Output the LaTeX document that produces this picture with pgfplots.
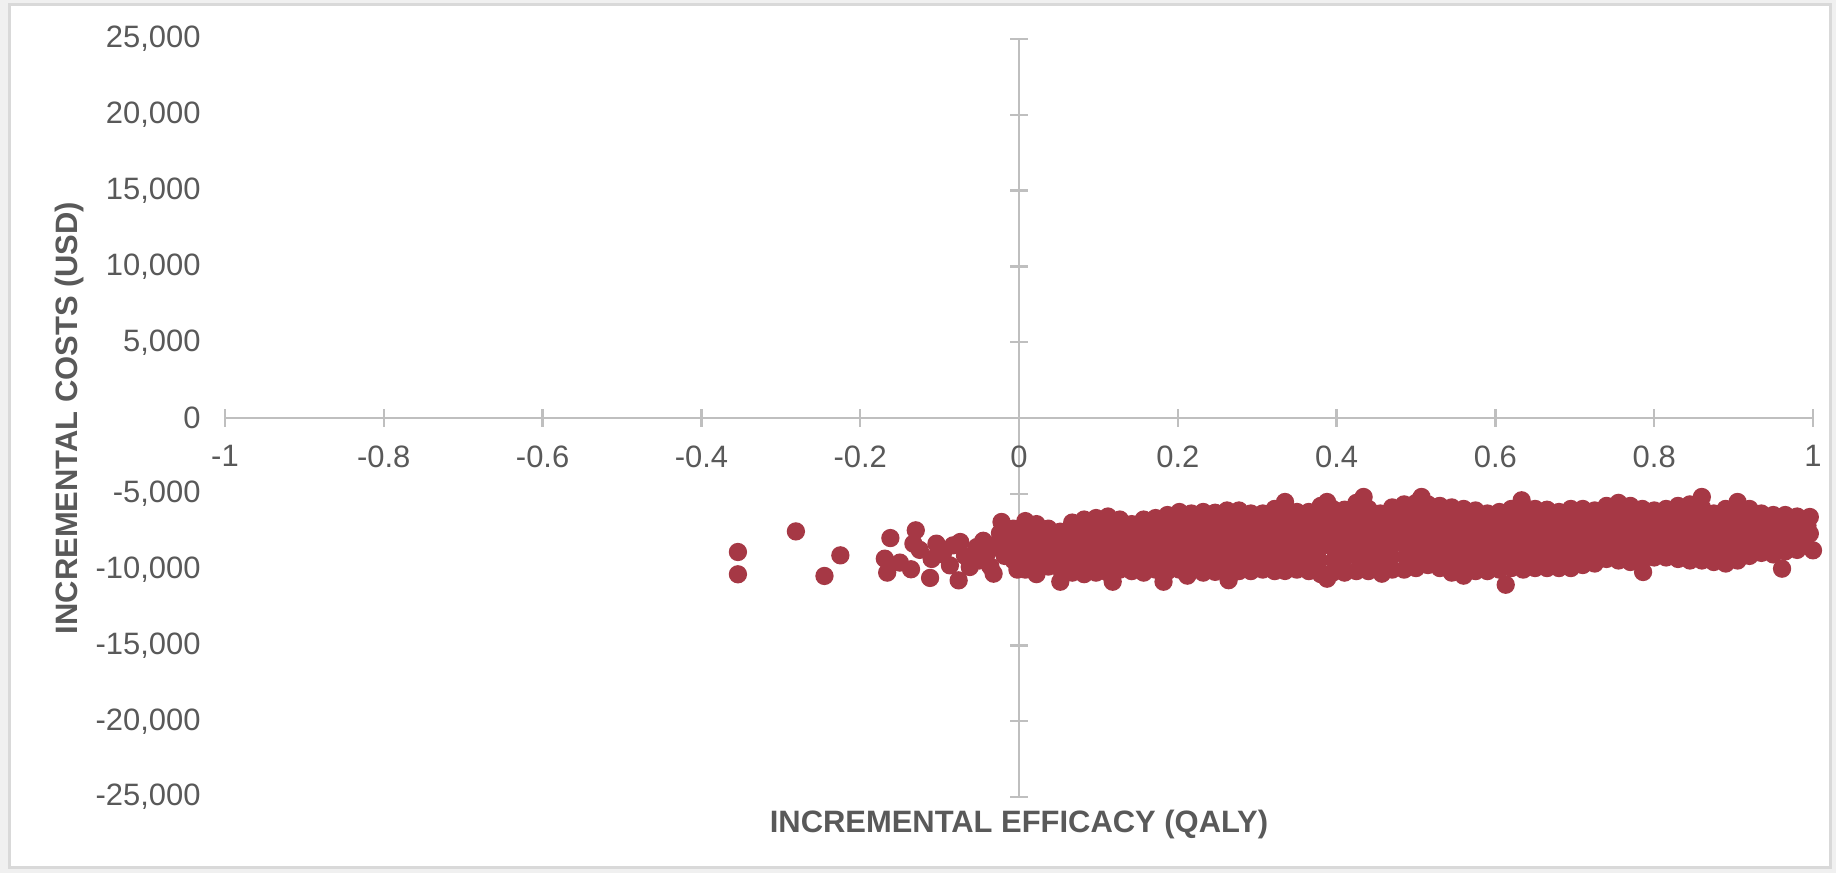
\documentclass[border=0pt]{standalone}
\usepackage{fontspec}
\setmainfont{Liberation Sans}
\usepackage{pgfplots}
\pgfplotsset{compat=1.18}
\definecolor{axisgray}{RGB}{191,191,191}
\definecolor{textgray}{RGB}{89,89,89}
\definecolor{framegray}{RGB}{217,217,217}
\definecolor{ptred}{RGB}{166,56,69}

\begin{document}
\begin{tikzpicture}
% chart frame
\fill[black!6] (-22.5mm,-7.6mm) rectangle (161.1mm,79.7mm);
\filldraw[fill=white, draw=framegray, line width=0.3mm] (-21.5mm,-7.1mm) rectangle (160.5mm,79.2mm);

\begin{axis}[
    at={(0,0)}, anchor=south west,
    scale only axis,
    width=158.8mm, height=75.8mm,
    xmin=-1, xmax=1, ymin=-25000, ymax=25000,
    axis lines=middle,
    axis line style={draw=axisgray, line width=0.25mm, -},
    hide obscured x ticks=false, hide obscured y ticks=false,
    xtick={-1,-0.8,-0.6,-0.4,-0.2,0,0.2,0.4,0.6,0.8,1},
    ytick={-25000,-20000,-15000,-10000,-5000,0,5000,10000,15000,20000,25000},
    scaled y ticks=false,
    tick align=center,
    major tick length=1.8mm,
    tick style={draw=axisgray, line width=0.25mm},
    /pgf/number format/assume math mode=true,
    /pgf/number format/1000 sep={,},
    ticklabel style={font=\fontsize{8.8}{10}\selectfont, text=textgray},
    xticklabel style={anchor=north, yshift=-0.6mm},
    yticklabel style={anchor=east, xshift=-79.7mm},
    xlabel={INCREMENTAL EFFICACY (QALY)},
    ylabel={INCREMENTAL COSTS (USD)},
    label style={font=\bfseries\fontsize{8.8}{10}\selectfont, text=textgray},
    xlabel style={at={([yshift=-3.6mm]axis description cs:0.5,0)}, anchor=base},
    ylabel style={at={([xshift=-14.7mm]axis description cs:0,0.5)}, anchor=base, rotate=90},
    clip=false,
]
\addplot[only marks, mark=*, mark size=2.4pt, color=ptred] coordinates {
% sparse points left of zero
(-0.354,-8840) (-0.354,-10310) (-0.281,-7480) (-0.245,-10420) (-0.225,-9060)
(-0.169,-9280) (-0.166,-10200) (-0.162,-7920) (-0.150,-9540) (-0.136,-9980) (-0.133,-8290) (-0.130,-7410)
(-0.125,-8700) (-0.112,-10550) (-0.110,-9300) (-0.104,-8290) (-0.096,-9000) (-0.087,-9720) (-0.083,-8400)
(-0.076,-10710) (-0.074,-8180) (-0.068,-9100) (-0.062,-9830) (-0.053,-8510) (-0.050,-9400) (-0.045,-8100)
(-0.040,-8900) (-0.036,-9800) (-0.032,-10270) (-0.028,-8300) (-0.024,-7600) (-0.022,-6860) (-0.018,-9100)
(-0.015,-7900) (-0.010,-8700) (-0.007,-7300) (-0.007,-9390) (-0.003,-8200) (-0.002,-10000)
% main cloud
(0.008,-6800) (0.009,-7440) (0.007,-8080) (0.008,-8720) (0.010,-9360) (0.008,-10000)
(0.022,-7000) (0.021,-7660) (0.023,-8320) (0.022,-8980) (0.024,-9640) (0.022,-10300)
(0.037,-7300) (0.038,-7800) (0.036,-8300) (0.037,-8800) (0.039,-9300) (0.037,-9800)
(0.052,-7500) (0.053,-8160) (0.051,-8820) (0.052,-9480) (0.054,-10140) (0.052,-10800)
(0.067,-6900) (0.066,-7560) (0.068,-8220) (0.067,-8880) (0.065,-9540) (0.067,-10200)
(0.082,-6700) (0.083,-7420) (0.081,-8140) (0.082,-8860) (0.084,-9580) (0.082,-10300)
(0.097,-6600) (0.096,-7320) (0.098,-8040) (0.097,-8760) (0.095,-9480) (0.097,-10200)
(0.112,-6500) (0.113,-7240) (0.111,-7980) (0.112,-8720) (0.114,-9460) (0.112,-10200)
(0.118,-10800)
(0.127,-6700) (0.126,-7360) (0.128,-8020) (0.127,-8680) (0.125,-9340) (0.127,-10000)
(0.142,-7000) (0.143,-7620) (0.141,-8240) (0.142,-8860) (0.144,-9480) (0.142,-10100)
(0.157,-6700) (0.156,-7400) (0.158,-8100) (0.157,-8800) (0.155,-9500) (0.157,-10200)
(0.172,-6600) (0.173,-7280) (0.171,-7960) (0.172,-8640) (0.174,-9320) (0.172,-10000)
(0.182,-10800)
(0.187,-6400) (0.186,-7140) (0.188,-7880) (0.187,-8620) (0.185,-9360) (0.187,-10100)
(0.202,-6200) (0.203,-6960) (0.201,-7720) (0.202,-8480) (0.204,-9240) (0.202,-10000)
(0.217,-6300) (0.216,-7120) (0.218,-7940) (0.217,-8760) (0.215,-9580) (0.212,-10400)
(0.232,-6200) (0.233,-7000) (0.231,-7800) (0.232,-8600) (0.234,-9400) (0.232,-10200)
(0.247,-6250) (0.246,-7050) (0.248,-7850) (0.247,-8650) (0.245,-9450) (0.247,-10150)
(0.262,-6100) (0.263,-7020) (0.261,-7940) (0.262,-8860) (0.264,-9780) (0.264,-10700)
(0.277,-6100) (0.276,-6900) (0.278,-7700) (0.277,-8500) (0.275,-9300) (0.277,-10100)
(0.292,-6300) (0.293,-7060) (0.291,-7820) (0.292,-8580) (0.294,-9340) (0.292,-10100)
(0.307,-6300) (0.306,-7040) (0.308,-7780) (0.307,-8520) (0.305,-9260) (0.307,-10000)
(0.322,-6000) (0.323,-6820) (0.321,-7640) (0.322,-8460) (0.324,-9280) (0.322,-10100)
(0.335,-5540) (0.336,-6450) (0.334,-7360) (0.335,-8270) (0.337,-9180) (0.335,-10090)
(0.350,-6200) (0.349,-6960) (0.351,-7720) (0.350,-8480) (0.348,-9240) (0.350,-10000)
(0.365,-6200) (0.366,-6980) (0.364,-7760) (0.365,-8540) (0.367,-9320) (0.365,-10100)
(0.380,-5800) (0.379,-6700) (0.381,-7600) (0.380,-8500) (0.378,-9400) (0.380,-10300)
(0.388,-5540) (0.388,-10600)
(0.395,-6000) (0.396,-6840) (0.394,-7680) (0.395,-8520) (0.397,-9360) (0.395,-10200)
(0.410,-6050) (0.409,-6880) (0.411,-7710) (0.410,-8540) (0.408,-9370) (0.410,-10200)
(0.425,-5600) (0.426,-6500) (0.424,-7400) (0.425,-8300) (0.427,-9200) (0.425,-10100)
(0.434,-5210)
(0.440,-6000) (0.439,-6820) (0.441,-7640) (0.440,-8460) (0.438,-9280) (0.440,-10100)
(0.455,-6300) (0.456,-7100) (0.454,-7900) (0.455,-8700) (0.457,-9500) (0.457,-10270)
(0.470,-5900) (0.469,-6720) (0.471,-7540) (0.470,-8360) (0.468,-9180) (0.470,-10000)
(0.485,-5700) (0.486,-6560) (0.484,-7420) (0.485,-8280) (0.487,-9140) (0.485,-10000)
(0.500,-5600) (0.499,-6460) (0.501,-7320) (0.500,-8180) (0.498,-9040) (0.500,-9900)
(0.507,-5210)
(0.515,-5700) (0.516,-6500) (0.514,-7300) (0.515,-8100) (0.517,-8900) (0.515,-9700)
(0.530,-5800) (0.529,-6620) (0.531,-7440) (0.530,-8260) (0.528,-9080) (0.530,-9900)
(0.545,-5900) (0.546,-6760) (0.544,-7620) (0.545,-8480) (0.547,-9340) (0.545,-10200)
(0.560,-6000) (0.559,-6880) (0.561,-7760) (0.560,-8640) (0.558,-9520) (0.560,-10400)
(0.575,-6100) (0.576,-6900) (0.574,-7700) (0.575,-8500) (0.577,-9300) (0.575,-10100)
(0.590,-6300) (0.589,-7060) (0.591,-7820) (0.590,-8580) (0.588,-9340) (0.590,-10100)
(0.613,-11000)
(0.605,-6200) (0.606,-6960) (0.604,-7720) (0.605,-8480) (0.607,-9240) (0.605,-10000)
(0.620,-6000) (0.619,-6780) (0.621,-7560) (0.620,-8340) (0.618,-9120) (0.620,-9900)
(0.633,-5430)
(0.635,-6100) (0.636,-6880) (0.634,-7660) (0.635,-8440) (0.637,-9220) (0.635,-10000)
(0.650,-6000) (0.649,-6780) (0.651,-7560) (0.650,-8340) (0.648,-9120) (0.650,-9900)
(0.665,-6050) (0.666,-6820) (0.664,-7590) (0.665,-8360) (0.667,-9130) (0.665,-9900)
(0.680,-6200) (0.679,-6940) (0.681,-7680) (0.680,-8420) (0.678,-9160) (0.680,-9900)
(0.695,-6000) (0.696,-6780) (0.694,-7560) (0.695,-8340) (0.697,-9120) (0.695,-9900)
(0.710,-6000) (0.709,-6740) (0.711,-7480) (0.710,-8220) (0.708,-8960) (0.710,-9700)
(0.725,-6100) (0.726,-6800) (0.724,-7500) (0.725,-8200) (0.727,-8900) (0.725,-9600)
(0.740,-5800) (0.739,-6500) (0.741,-7200) (0.740,-7900) (0.738,-8600) (0.740,-9300)
(0.755,-5600) (0.756,-6360) (0.754,-7120) (0.755,-7880) (0.757,-8640) (0.755,-9400)
(0.770,-5800) (0.769,-6540) (0.771,-7280) (0.770,-8020) (0.768,-8760) (0.770,-9500)
(0.786,-10160)
(0.785,-6000) (0.786,-6680) (0.784,-7360) (0.785,-8040) (0.787,-8720) (0.785,-9400)
(0.800,-6100) (0.799,-6720) (0.801,-7340) (0.800,-7960) (0.798,-8580) (0.800,-9200)
(0.815,-6000) (0.816,-6640) (0.814,-7280) (0.815,-7920) (0.817,-8560) (0.815,-9200)
(0.830,-5800) (0.829,-6500) (0.831,-7200) (0.830,-7900) (0.828,-8600) (0.830,-9300)
(0.845,-5700) (0.846,-6440) (0.844,-7180) (0.845,-7920) (0.847,-8660) (0.845,-9400)
(0.860,-5210)
(0.860,-5900) (0.859,-6600) (0.861,-7300) (0.860,-8000) (0.858,-8700) (0.860,-9400)
(0.875,-6300) (0.876,-6940) (0.874,-7580) (0.875,-8220) (0.877,-8860) (0.875,-9500)
(0.890,-6000) (0.889,-6720) (0.891,-7440) (0.890,-8160) (0.888,-8880) (0.890,-9600)
(0.905,-5540) (0.906,-6310) (0.904,-7080) (0.905,-7850) (0.907,-8620) (0.905,-9400)
(0.920,-6000) (0.919,-6620) (0.921,-7240) (0.920,-7860) (0.918,-8480) (0.920,-9100)
(0.935,-6300) (0.936,-6820) (0.934,-7340) (0.935,-7860) (0.937,-8380) (0.935,-8900)
(0.950,-6400) (0.949,-6920) (0.951,-7440) (0.950,-7960) (0.948,-8480) (0.950,-9000)
(0.961,-9940)
(0.965,-6400) (0.966,-6880) (0.964,-7360) (0.965,-7840) (0.967,-8320) (0.965,-8800)
(0.980,-6500) (0.979,-6940) (0.981,-7380) (0.980,-7820) (0.978,-8260) (0.980,-8700)
(0.996,-6530) (0.993,-7100) (0.996,-7630) (0.990,-8200) (1.000,-8730)
};
\end{axis}
\end{tikzpicture}
\end{document}
